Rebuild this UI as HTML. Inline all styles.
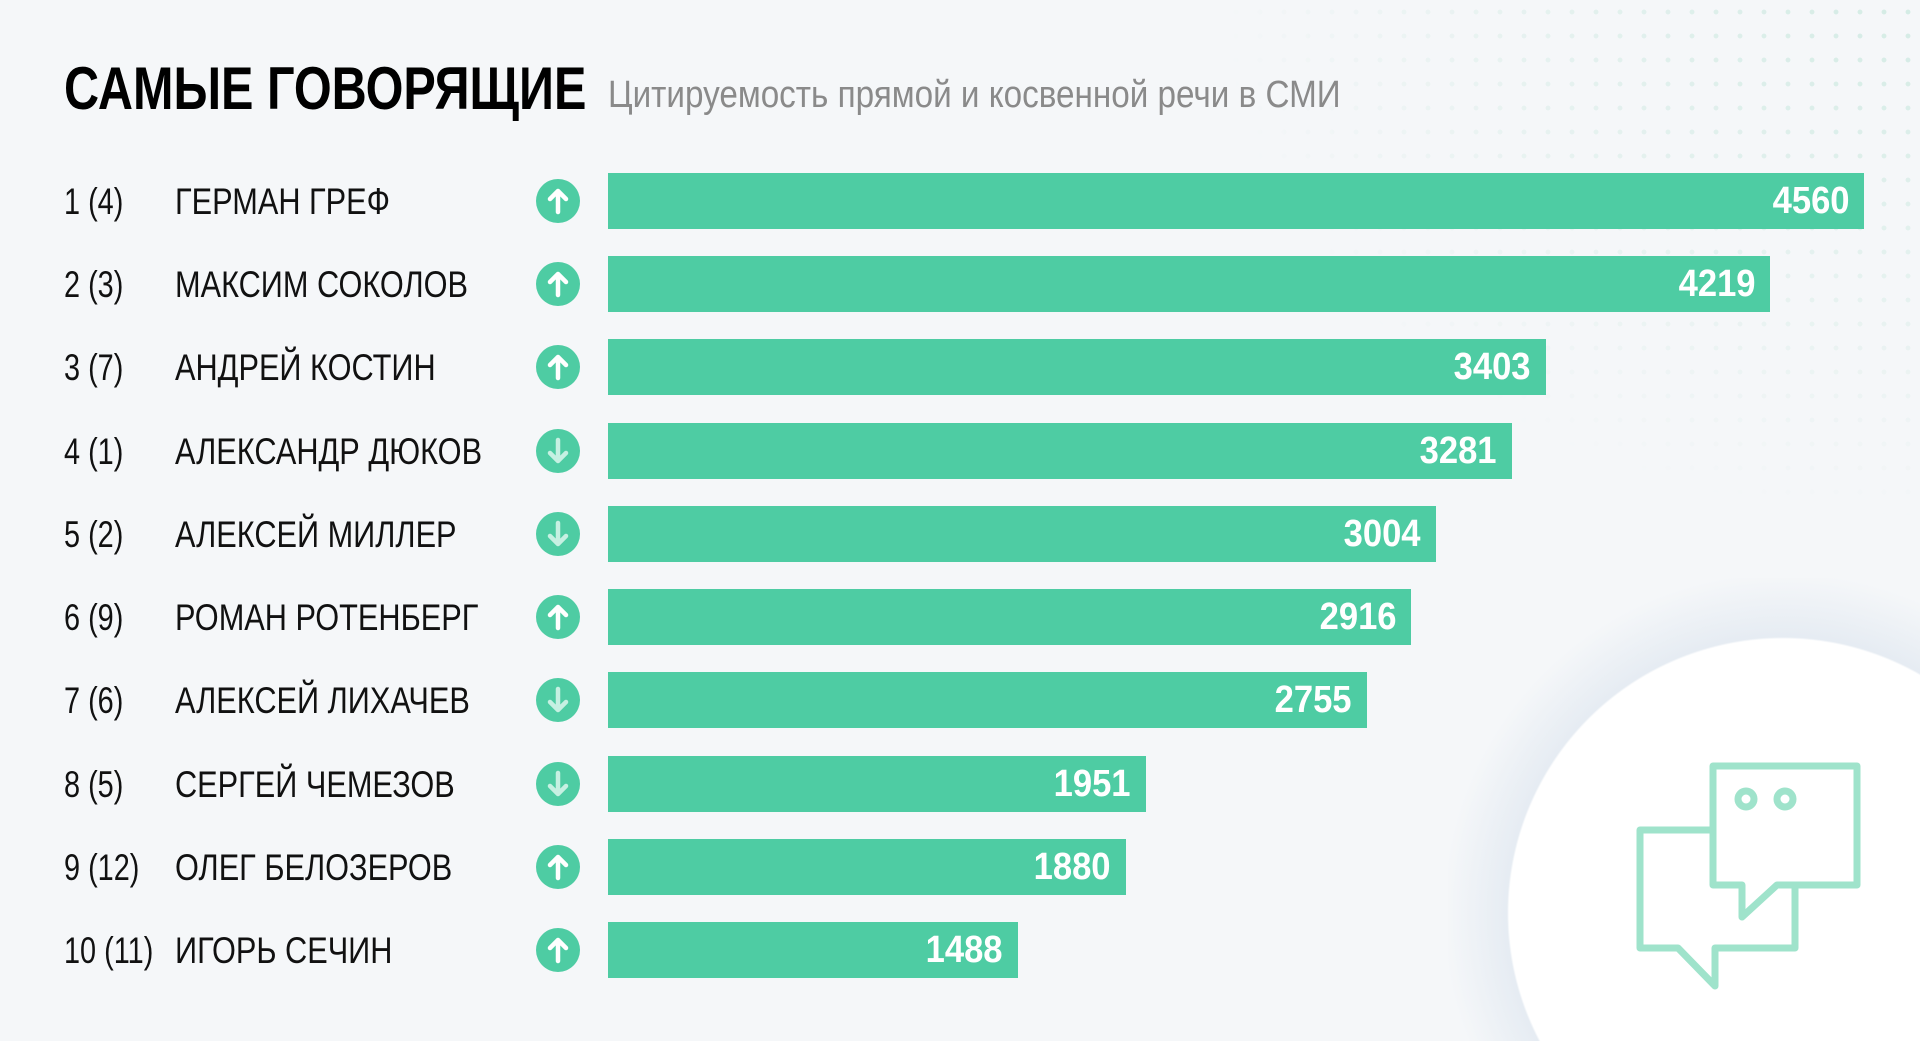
<!DOCTYPE html>
<html><head><meta charset="utf-8"><style>
html,body{margin:0;padding:0;width:1920px;height:1041px;overflow:hidden}
body{background:#f5f7f9;font-family:"Liberation Sans",sans-serif}
#wrap{position:relative;width:1920px;height:1041px;overflow:hidden}
.dots{position:absolute;left:1200px;top:0;width:720px;height:1041px;background-image:radial-gradient(circle,#d3ebe4 2.2px,transparent 2.6px);background-size:24px 24px;-webkit-mask-image:radial-gradient(ellipse 700px 520px at 100% 0%,#000 0%,rgba(0,0,0,.5) 50%,transparent 100%)}
.circ{position:absolute;left:1448px;top:578px;width:472px;height:463px;background:radial-gradient(circle 275px at 335px 335px,#fff 274px,rgba(226,233,241,.8) 276px,rgba(240,243,247,0) 340px)}
.title{position:absolute;left:64px;top:54px;font-size:60px;font-weight:bold;color:#000;transform:scaleX(0.81);transform-origin:0 0;white-space:nowrap}
.sub{position:absolute;left:608px;top:74px;font-size:38px;color:#8a8a8a;transform:scaleX(0.875);transform-origin:0 0;white-space:nowrap}
.rank,.name{position:absolute;font-size:37px;color:#111;transform-origin:0 0;white-space:nowrap}
.rank{transform:scaleX(0.78)}
.name{transform:scaleX(0.83)}
.bar{position:absolute;left:608px;height:56px;background:#4ecca3}
.val{position:absolute;right:15px;top:0;line-height:56px;color:#fff;font-weight:bold;font-size:38px;transform:scaleX(0.91);transform-origin:100% 0;white-space:nowrap}
.ic{position:absolute;left:536px;width:44px;height:44px;border-radius:50%;background:#4ecca3}
</style></head><body><div id="wrap">
<div class="dots"></div>
<div class="circ"></div>
<svg style="position:absolute;left:0;top:0" width="1920" height="1041">
<g fill="none" stroke="#9fe3cb" stroke-width="7" stroke-linejoin="round">
<path d="M1640 830 H1795 V948 H1715 V986 L1678 948 H1640 Z" fill="#fff"/>
<path d="M1713 766 H1857 V885 H1777 L1742 917 V885 H1713 Z" fill="#fff"/>
<circle cx="1746" cy="799" r="8"/><circle cx="1785" cy="799" r="8"/>
</g></svg>
<div class="title">САМЫЕ ГОВОРЯЩИЕ</div>
<div class="sub">Цитируемость прямой и косвенной речи в СМИ</div>
<div id="rows"></div>
</div>
<script>
var d=[["1 (4)","ГЕРМАН ГРЕФ",4560,1],["2 (3)","МАКСИМ СОКОЛОВ",4219,1],["3 (7)","АНДРЕЙ КОСТИН",3403,1],["4 (1)","АЛЕКСАНДР ДЮКОВ",3281,0],["5 (2)","АЛЕКСЕЙ МИЛЛЕР",3004,0],["6 (9)","РОМАН РОТЕНБЕРГ",2916,1],["7 (6)","АЛЕКСЕЙ ЛИХАЧЕВ",2755,0],["8 (5)","СЕРГЕЙ ЧЕМЕЗОВ",1951,0],["9 (12)","ОЛЕГ БЕЛОЗЕРОВ",1880,1],["10 (11)","ИГОРЬ СЕЧИН",1488,1]];
var h="";
d.forEach(function(r,i){var c=200.8+i*83.27;var w=r[2]*0.2755;
h+='<div class="rank" style="left:64px;top:'+(c-20)+'px">'+r[0]+'</div>';
h+='<div class="name" style="left:175px;top:'+(c-20)+'px">'+r[1]+'</div>';
var col=r[3]?'#fff':'#c6f0e2';
var p=r[3]?'M22 33 V13 M14 20 L22 12 L30 20':'M22 11 V31 M14 24 L22 32 L30 24';
h+='<div class="ic" style="top:'+(c-22)+'px"><svg width="44" height="44"><path d="'+p+'" stroke="'+col+'" stroke-width="4.5" fill="none" stroke-linecap="round" stroke-linejoin="round"/></svg></div>';
h+='<div class="bar" style="top:'+(c-28)+'px;width:'+w+'px"><span class="val">'+r[2]+'</span></div>';});
document.getElementById("rows").innerHTML=h;
</script>
</body></html>
